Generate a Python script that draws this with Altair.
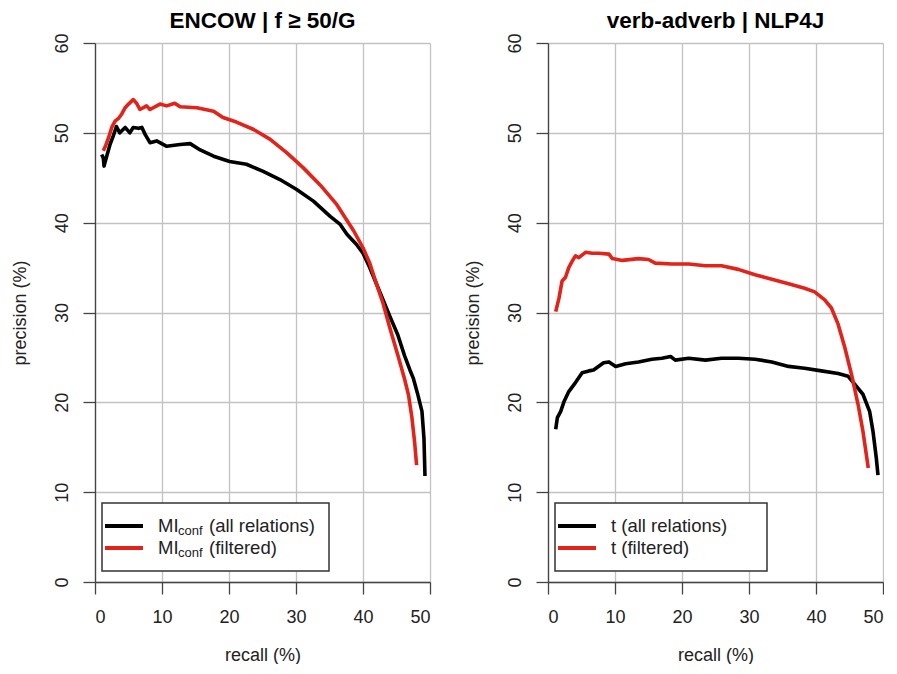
import altair as alt
import pandas as pd

# ---------- data ----------
# Left panel: ENCOW | f >= 50/G
enc_all_x = [1.0, 1.24, 1.35, 1.6, 2.24, 2.7, 3.2, 3.7, 4.5, 5.2, 5.7, 6.5, 7.0, 7.5, 8.2, 9.2, 10.7,
             12.7, 14.2, 15.7, 17.7, 20.1, 22.6, 25.1, 27.6, 30.1, 32.6, 35.1, 36.6, 37.6, 39.0,
             40.0, 41.0, 42.0, 43.0, 44.0, 45.2, 46.2, 47.0, 47.5, 48.2, 48.8, 49.1, 49.25]
enc_all_y = [47.6, 47.2, 46.3, 47.0, 48.7, 49.6, 50.7, 50.0, 50.6, 50.0, 50.6, 50.5, 50.6, 49.8, 48.9, 49.1, 48.5,
             48.7, 48.8, 48.1, 47.4, 46.8, 46.5, 45.7, 44.8, 43.7, 42.4, 40.7, 39.8, 38.7, 37.6,
             36.6, 35.0, 33.2, 31.4, 29.6, 27.5, 25.2, 23.6, 22.7, 20.8, 19.0, 16.0, 11.8]
enc_filt_x = [1.24, 1.6, 2.0, 2.5, 3.0, 3.5, 4.0, 4.5, 5.0, 5.7, 6.2, 6.7, 7.7, 8.2, 9.7, 10.7, 11.9,
              12.7, 15.2, 17.7, 19.1, 21.1, 23.6, 26.1, 28.6, 31.1, 33.6, 36.1, 38.6, 40.0,
              41.0, 42.0, 43.0, 44.0, 45.3, 46.2, 46.8, 47.3, 47.7, 48.0]
enc_filt_y = [48.0, 48.6, 49.4, 50.6, 51.3, 51.6, 52.1, 52.8, 53.2, 53.7, 53.3, 52.6, 53.0, 52.6, 53.2, 53.0, 53.3,
              52.9, 52.8, 52.4, 51.7, 51.2, 50.4, 49.3, 47.8, 46.1, 44.2, 42.0, 39.1, 37.2,
              35.5, 33.2, 31.0, 28.3, 25.0, 22.6, 20.8, 18.3, 15.6, 13.0]

# Right panel: verb-adverb | NLP4J
va_all_x = [1.15, 1.4, 1.9, 2.4, 3.1, 4.1, 5.1, 6.1, 6.8, 8.3, 9.1, 10.1, 11.6, 13.5, 15.5, 17.0, 18.3,
            19.0, 21.0, 23.5, 25.9, 28.4, 30.9, 33.4, 35.9, 38.3, 40.8, 43.3, 44.8, 45.8, 47.0,
            48.0, 48.5, 49.0, 49.25]
va_all_y = [17.0, 18.3, 19.0, 20.1, 21.2, 22.2, 23.3, 23.5, 23.6, 24.4, 24.5, 24.0, 24.3, 24.5, 24.8, 24.9, 25.1,
            24.7, 24.9, 24.7, 24.9, 24.9, 24.8, 24.5, 24.0, 23.8, 23.5, 23.2, 22.9, 22.0, 20.9,
            19.0, 16.8, 13.8, 11.9]
va_filt_x = [1.15, 1.64, 2.1, 2.6, 3.1, 3.6, 4.1, 4.6, 5.6, 6.6, 7.6, 9.1, 9.6, 11.1, 13.5, 15.0, 16.0,
             18.5, 21.0, 23.5, 25.9, 28.4, 30.9, 33.4, 35.9, 38.3, 39.8, 41.3, 42.3, 43.3, 44.3,
             45.3, 46.3, 47.0, 47.8]
va_filt_y = [30.1, 31.6, 33.5, 33.9, 35.0, 35.7, 36.3, 36.1, 36.7, 36.6, 36.6, 36.5, 36.0, 35.8, 36.0, 35.9, 35.5,
             35.4, 35.4, 35.2, 35.2, 34.8, 34.2, 33.7, 33.2, 32.7, 32.3, 31.4, 30.5, 28.7, 26.1,
             23.1, 19.7, 16.8, 12.7]

x_ticks = [0, 10, 20, 30, 40, 50]
y_ticks = [0, 10, 20, 30, 40, 50, 60]
series_names = ["all relations", "filtered"]
series_colors = ["#000000", "#e2231a"]

titles = ["ENCOW | f \u2265 50/G", "verb-adverb | NLP4J"]
legend_main = ["MI", "t"]
legend_sub = ["conf", ""]
legend_rest = ["(all relations)", "(filtered)"]

FONT = "Liberation Sans"
W, H = 335, 539
LEG_FS = 18.5


def panel(title, ax, ay, fx, fy, main, sub, box_w):
    df = pd.concat([
        pd.DataFrame({"recall": ax, "precision": ay, "series": series_names[0],
                      "idx": range(len(ax))}),
        pd.DataFrame({"recall": fx, "precision": fy, "series": series_names[1],
                      "idx": range(len(fx))}),
    ])
    lines = alt.Chart(df).mark_line(strokeWidth=3.6, strokeJoin="round", strokeCap="butt").encode(
        x=alt.X("recall:Q",
                scale=alt.Scale(domain=[0, 50], nice=False, zero=False),
                axis=alt.Axis(values=x_ticks, title="recall (%)", format="d")),
        y=alt.Y("precision:Q",
                scale=alt.Scale(domain=[0, 60], nice=False, zero=False),
                axis=alt.Axis(values=y_ticks, title="precision (%)", format="d",
                              labelAngle=270, labelAlign="center", labelBaseline="bottom")),
        color=alt.Color("series:N", scale=alt.Scale(domain=series_names, range=series_colors),
                        legend=None),
        order="idx:Q",
    )
    one = pd.DataFrame({"a": [0]})
    box = alt.Chart(one).mark_rect(fill="white", stroke="#333333", strokeWidth=1.5).encode(
        x=alt.value(7), x2=alt.value(7 + box_w), y=alt.value(460), y2=alt.value(528))
    layers = [lines, box]
    rows_y = [483, 505]
    for i in range(2):
        layers.append(alt.Chart(one).mark_rule(strokeWidth=4, color=series_colors[i]).encode(
            x=alt.value(10), x2=alt.value(48), y=alt.value(rows_y[i])))
        if sub:
            layers.append(alt.Chart(one).mark_text(align="left", baseline="middle", fontSize=LEG_FS,
                                                   font=FONT, color="#222222").encode(
                x=alt.value(63), y=alt.value(rows_y[i]), text=alt.value(main)))
            layers.append(alt.Chart(one).mark_text(align="left", baseline="middle", fontSize=13,
                                                   font=FONT, color="#222222").encode(
                x=alt.value(83), y=alt.value(rows_y[i] + 5), text=alt.value(sub)))
            layers.append(alt.Chart(one).mark_text(align="left", baseline="middle", fontSize=LEG_FS,
                                                   font=FONT, color="#222222").encode(
                x=alt.value(114), y=alt.value(rows_y[i]), text=alt.value(legend_rest[i])))
        else:
            layers.append(alt.Chart(one).mark_text(align="left", baseline="middle", fontSize=LEG_FS,
                                                   font=FONT, color="#222222").encode(
                x=alt.value(63), y=alt.value(rows_y[i]),
                text=alt.value(main + " " + legend_rest[i])))
    return alt.layer(*layers).properties(
        width=W, height=H,
        title=alt.TitleParams(title, fontSize=22.5, fontWeight="bold", font=FONT,
                              anchor="middle", offset=0, color="#000000"))


left = panel(titles[0], enc_all_x, enc_all_y, enc_filt_x, enc_filt_y,
             legend_main[0], legend_sub[0], 227)
right = panel(titles[1], va_all_x, va_all_y, va_filt_x, va_filt_y,
              legend_main[1], legend_sub[1], 212)

chart = alt.hconcat(left, right, spacing=33).properties(
    padding={"left": 3, "top": 2, "right": 0, "bottom": 0}
).configure_view(stroke=None).configure_axis(
    labelFont=FONT, titleFont=FONT, labelFontSize=18, titleFontSize=18,
    labelColor="#222222", titleColor="#222222", titleFontWeight="normal",
    domainColor="#444444", domainWidth=1.3, tickColor="#444444", tickWidth=1.3,
    tickSize=12, labelPadding=12,
    grid=True, gridColor="#c2c2c2", gridWidth=1.3,
).configure_axisY(titlePadding=24).configure_axisX(titlePadding=20, labelPadding=14)

chart.save("out.html", embed_options={"renderer": "svg", "actions": False})
